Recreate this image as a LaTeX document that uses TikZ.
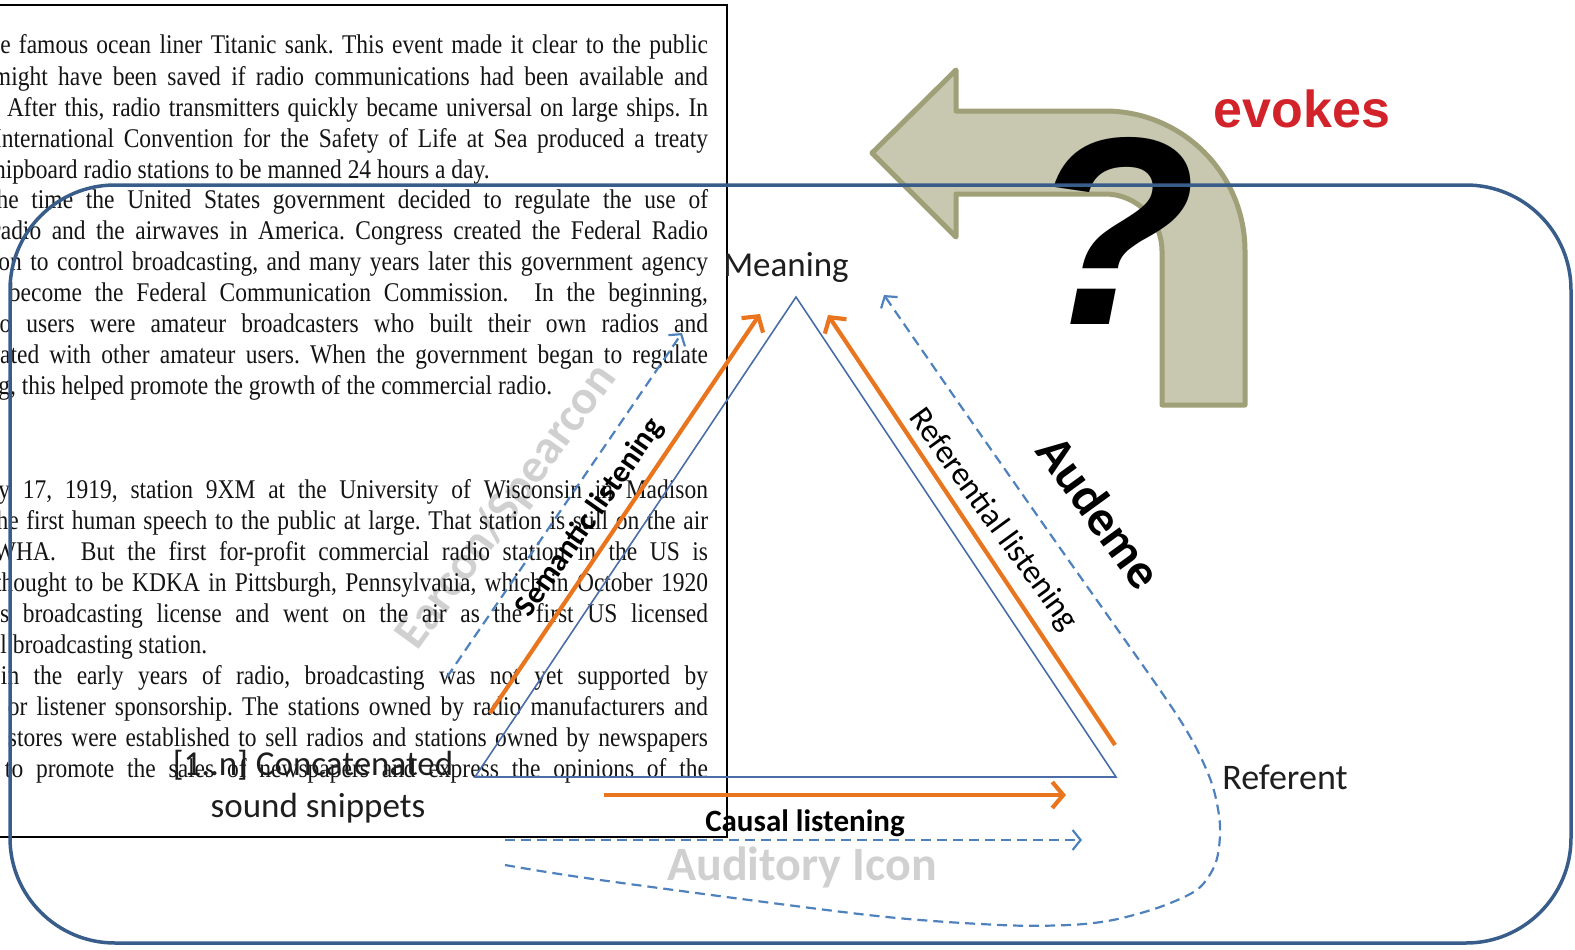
\documentclass[tikz,border=0pt]{standalone}
\usepackage{fontspec}
\usetikzlibrary{arrows.meta}
\setmainfont{Liberation Serif}
\newfontfamily\bodyfont[FakeStretch=0.87]{Liberation Serif}
\newfontfamily\labelfont{Carlito}
\newfontfamily\headfont{Liberation Sans}
\definecolor{rimblue}{HTML}{385D8A}
\definecolor{triblue}{HTML}{4B6EA8}
\definecolor{dashblue}{HTML}{4F81BD}
\definecolor{listenorange}{HTML}{E9761F}
\definecolor{ghostgray}{HTML}{D0D0D0}
\definecolor{khakifill}{HTML}{C8C8B0}
\definecolor{khakiedge}{HTML}{A0A078}
\definecolor{evokered}{HTML}{D2232A}
\definecolor{labelink}{HTML}{1E1E1E}

% one justified line of the page text, running from x = #2 to the right margin
\newcommand\jline[4]{\node[bodyline] (#1) at (#2,#3) {\makebox[\dimexpr708pt-(#2pt)\relax][s]{#4}};}
% a closing line of a paragraph, natural spacing
\newcommand\pline[4]{\node[bodyline] (#1) at (#2,#3) {#4};}

\begin{document}
\frenchspacing
\begin{tikzpicture}[x=1pt,y=-1pt,
  bodyline/.style={anchor=base west, inner sep=0pt, outer sep=0pt,
    font=\bodyfont\fontsize{27}{31}\selectfont, text=black!92},
  lbl/.style={anchor=base, inner sep=0pt, text=labelink,
    font=\labelfont\fontsize{35}{40}\selectfont},
  boldlbl/.style={inner sep=0pt, text=black,
    font=\labelfont\bfseries\fontsize{31}{36}\selectfont},
  ghost/.style={inner sep=0pt, text=ghostgray,
    font=\labelfont\bfseries\fontsize{48}{53}\selectfont},
  trianglebox/.style={draw=triblue, line width=1.6pt, line join=miter},
  orangearrow/.style={draw=listenorange, line width=4.2pt,
    -{Straight Barb[length=11pt,width=26pt]}},
  dasharrow/.style={draw=dashblue, line width=2.2pt, dash pattern=on 10pt off 6pt,
    -{Straight Barb[length=8pt,width=20pt]}},
]
\useasboundingbox (0,0) rectangle (1575,950);
\begin{scope}
\clip (0,0) rectangle (1575,950);

% faint category labels
\node[ghost, rotate=54] (earcon) at (507,507) {Earcon/Spearcon};
\node[ghost, anchor=base] (auditory) at (802,880) {Auditory Icon};

% page of text behind the diagram
\jline{t1}{-18}{54}{the famous ocean liner Titanic sank. This event made it clear to the public}
\jline{t2}{-7}{85}{might have been saved if radio communications had been available and}
\jline{t3}{7}{116}{After this, radio transmitters quickly became universal on large ships. In}
\jline{t4}{-6}{147}{International Convention for the Safety of Life at Sea produced a treaty}
\pline{t5}{-15}{178}{shipboard radio stations to be manned 24 hours a day.}
\jline{t6}{-10}{208}{the time the United States government decided to regulate the use of}
\jline{t7}{-7}{239}{radio and the airwaves in America. Congress created the Federal Radio}
\jline{t8}{-97}{270}{Commission to control broadcasting, and many years later this government agency}
\jline{t9}{9}{301}{become the Federal Communication Commission. \ In the beginning,}
\jline{t10}{-37}{332}{radio users were amateur broadcasters who built their own radios and}
\jline{t11}{-99}{363}{communicated with other amateur users. When the government began to regulate}
\pline{t12}{-110}{394}{broadcasting, this helped promote the growth of the commercial radio.}
\jline{t13}{-63}{498}{January 17, 1919, station 9XM at the University of Wisconsin in Madison}
\jline{t14}{-10}{529}{the first human speech to the public at large. That station is still on the air}
\jline{t15}{-6}{560}{WHA. \ But the first for-profit commercial radio station in the US is}
\jline{t16}{-5}{591}{thought to be KDKA in Pittsburgh, Pennsylvania, which in October 1920}
\jline{t17}{-13}{622}{its broadcasting license and went on the air as the first US licensed}
\pline{t18}{-104}{653}{commercial broadcasting station.}
\jline{t19}{1}{684}{in the early years of radio, broadcasting was not yet supported by}
\jline{t20}{8}{715}{or listener sponsorship. The stations owned by radio manufacturers and}
\jline{t21}{8}{746}{stores were established to sell radios and stations owned by newspapers}
\jline{t22}{5}{777}{to promote the sales of newspapers and express the opinions of the}

% frame of the text page
\draw[line width=2pt, black] (-10,5) -- (727,5) -- (727,837) -- (-10,837);

% semiotic triangle
\coordinate (apex) at (796,297);
\coordinate (baseL) at (475,777);
\coordinate (baseR) at (1116,777);
\draw[trianglebox] (apex) -- (baseR) -- (baseL) -- cycle;

% listening modes
\coordinate (semS) at (490,713);  \coordinate (semE) at (760,314);
\coordinate (refS) at (1115,745); \coordinate (refE) at (828,315);
\coordinate (cauS) at (604,795);  \coordinate (cauE) at (1066,795);
\draw[orangearrow] (semS) -- (semE);
\draw[orangearrow] (refS) -- (refE);
\draw[orangearrow] (cauS) -- (cauE);

% sound categories
\coordinate (earS) at (447,677);  \coordinate (earE) at (682,333);
\coordinate (icoS) at (505,840);  \coordinate (icoE) at (1082,840);
\draw[dasharrow] (earS) -- (earE);
\draw[dasharrow] (icoS) -- (icoE);
\coordinate (audS) at (505,865);
\coordinate (audE) at (884,295);
\draw[dasharrow]
  plot[smooth, tension=0.5] coordinates {(audS) (600,880) (868,915) (1000,925)
    (1069,925) (1113,920) (1160,907) (1198,889) (1216,862) (1220,825)
    (1212,784) (1192,740) (1160,690) (1060,548) (960,405) (audE)};

% vertex and mode labels
\node[lbl] (meaning) at (786,276) {Meaning};
\node[lbl, font=\labelfont\fontsize{36}{40}\selectfont] (referent) at (1285,789) {Referent};
\node[lbl] (concat) at (313,775) {[1..n] Concatenated};
\node[lbl] (snippets) at (318,817) {sound snippets};
\node[boldlbl, anchor=base] (causal) at (805,831) {Causal listening};
\node[boldlbl, rotate=55] (semantic) at (590,518) {Semantic listening};
\node[inner sep=0pt, text=black, rotate=-54,
  font=\labelfont\fontsize{33}{38}\selectfont] (referential) at (993,520) {Referential listening};
\node[inner sep=0pt, text=black, rotate=-54,
  font=\labelfont\bfseries\fontsize{50}{56}\selectfont] (audeme) at (1100,512) {Audeme};

% bent arrow for "evokes"
\filldraw[fill=khakifill, draw=khakiedge, line width=5pt, line join=round]
  (872,153) -- (956,70) -- (956,111) -- (1105,111)
  .. controls (1182.3,111) and (1245,173.7) .. (1245,251)
  -- (1245,405) -- (1162,405) -- (1162,251)
  .. controls (1162,219.5) and (1136.5,194) .. (1105,194)
  -- (956,194) -- (956,237) -- cycle;
\node[inner sep=0pt, text=black, xscale=1.02,
  font=\headfont\bfseries\itshape\fontsize{268}{268}\selectfont] (question) at (1113,231) {?};
\node[anchor=base, inner sep=0pt, text=evokered,
  font=\headfont\bfseries\fontsize{52}{58}\selectfont] (evokes) at (1302,127) {evokes};

% outer rounded frame
\draw[rimblue, line width=3.5pt, rounded corners=105pt] (10,185) rectangle (1571,943);
\end{scope}
\end{tikzpicture}
\end{document}
